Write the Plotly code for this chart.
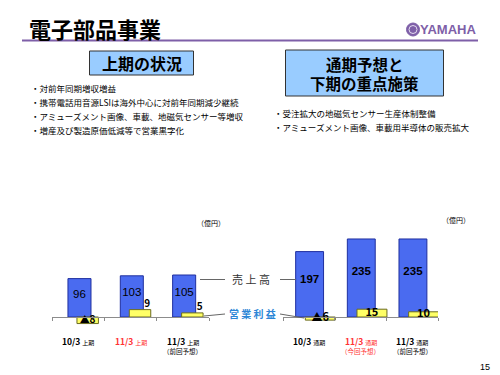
import glob
import numpy as np
import plotly.graph_objects as go

# ---------------- data ----------------
left_years = ["10/3", "11/3", "11/3"]
left_period = "上期"
left_notes = ["", "", "（前回予想）"]
left_sales = [96, 103, 105]
left_profit = [-8, 9, 5]

right_years = ["10/3", "11/3", "11/3"]
right_period = "通期"
right_notes = ["", "（今回予想）", "（前回予想）"]
right_sales = [197, 235, 235]
right_profit = [-6, 15, 10]

highlight = [False, True, False]

title_text = "電子部品事業"
left_box_text = ["上期の状況"]
right_box_text = ["通期予想と", "下期の重点施策"]
left_bullets = [
    "・対前年同期増収増益",
    "・携帯電話用音源LSIは海外中心に対前年同期減少継続",
    "・アミューズメント画像、車載、地磁気センサー等増収",
    "・増産及び製造原価低減等で営業黒字化",
]
right_bullets = [
    "・受注拡大の地磁気センサー生産体制整備",
    "・アミューズメント画像、車載用半導体の販売拡大",
]
unit_label = "（億円）"
sales_label = "売 上 高"
profit_label = "営 業 利 益"
page_no = "15"

JP = "Noto Sans CJK JP"
BLUE = "#4A6BF0"
BLUE_LINE = "#1F2F9F"
YELLOW = "#FFFF66"
YELLOW_LINE = "#6B6B20"
PURPLE = "#7E5FA8"
RED = "#FF3333"
W, H = 500, 375

has_narrow = bool(glob.glob("/usr/share/fonts/**/LiberationSansNarrow*", recursive=True))
LOGO_FONT = "Liberation Sans Narrow" if has_narrow else "Liberation Sans"
LOGO_SIZE = 16 if has_narrow else 13


def px(x):
    return x / W


def py(y):
    return 1 - y / H


def neg_fmt(v):
    return ("▲" + str(abs(v))) if v < 0 else str(v)


fig = go.Figure()
centers = np.arange(3) + 0.5

# ---------- left chart ----------
fig.add_trace(go.Bar(x=centers, y=left_sales, xaxis="x", yaxis="y",
                     offset=-0.195, width=0.44,
                     marker=dict(color=BLUE, line=dict(color=BLUE_LINE, width=1)),
                     hoverinfo="skip"))
fig.add_trace(go.Scatter(x=centers + 0.025, y=[v * 0.57 for v in left_sales],
                         xaxis="x", yaxis="y", mode="text",
                         text=[str(v) for v in left_sales],
                         textfont=dict(family="Liberation Sans", size=11.5, color="black"),
                         cliponaxis=False, hoverinfo="skip"))
fig.add_trace(go.Bar(x=centers, y=left_profit, xaxis="x", yaxis="y2",
                     offset=-0.023, width=0.41,
                     marker=dict(color=YELLOW, line=dict(color=YELLOW_LINE, width=1)),
                     hoverinfo="skip"))
lp_x = [c + (0.32 if v > 0 else 0.18) for c, v in zip(centers, left_profit)]
lp_y = [v if v > 0 else v / 2 for v in left_profit]
lp_pos = ["top center" if v > 0 else "middle center" for v in left_profit]
fig.add_trace(go.Scatter(x=lp_x, y=lp_y, xaxis="x", yaxis="y2", mode="text",
                         text=["<b>%s</b>" % neg_fmt(v) for v in left_profit], textposition=lp_pos,
                         textfont=dict(family=JP, size=10, color="black"),
                         cliponaxis=False, hoverinfo="skip"))

# ---------- right chart ----------
fig.add_trace(go.Bar(x=centers, y=right_sales, xaxis="x2", yaxis="y3",
                     offset=-0.255, width=0.54,
                     marker=dict(color=BLUE, line=dict(color=BLUE_LINE, width=1)),
                     hoverinfo="skip"))
fig.add_trace(go.Scatter(x=centers + 0.015, y=[v * 0.57 for v in right_sales],
                         xaxis="x2", yaxis="y3", mode="text",
                         text=["<b>%d</b>" % v for v in right_sales],
                         textfont=dict(family="Liberation Sans", size=11.5, color="black"),
                         cliponaxis=False, hoverinfo="skip"))
fig.add_trace(go.Bar(x=centers, y=right_profit, xaxis="x2", yaxis="y4",
                     offset=-0.068, width=0.58,
                     marker=dict(color=YELLOW, line=dict(color=YELLOW_LINE, width=1)),
                     hoverinfo="skip"))
fig.add_trace(go.Scatter(x=centers + 0.22, y=[v / 2 for v in right_profit],
                         xaxis="x2", yaxis="y4", mode="text",
                         text=["<b>%s</b>" % neg_fmt(v) for v in right_profit],
                         textfont=dict(family=JP, size=11, color="black"),
                         cliponaxis=False, hoverinfo="skip"))

axis_common = dict(range=[0, 3], anchor="free", position=py(317), showline=True,
                   linecolor="#8C8C8C", linewidth=1, tickvals=[0, 1, 2, 3],
                   ticks="outside", ticklen=3, tickcolor="#8C8C8C",
                   showticklabels=False, showgrid=False, zeroline=False)
yhide = dict(visible=False, showgrid=False, zeroline=False)

fig.update_layout(
    width=W, height=H, margin=dict(l=0, r=0, t=0, b=0),
    paper_bgcolor="white", plot_bgcolor="rgba(0,0,0,0)", showlegend=False,
    barmode="overlay",
    xaxis=dict(domain=[px(52), px(209)], **axis_common),
    yaxis=dict(domain=[py(330), py(230)], range=[-13 / 0.4, 87 / 0.4], **yhide),
    yaxis2=dict(overlaying="y", range=[-13 / 0.82, 87 / 0.82], **yhide),
    xaxis2=dict(domain=[px(283), px(438)], **axis_common),
    yaxis3=dict(domain=[py(330), py(200)], range=[-13 / 0.332, 117 / 0.332], anchor="x2", **yhide),
    yaxis4=dict(overlaying="y3", anchor="x2", range=[-13 / 0.52, 117 / 0.52], **yhide),
)

shapes = []
ann = []


def note(x, y, text, size, color="black", family=JP, xanchor="center", xref="paper", **kw):
    ann.append(dict(x=x, y=y, xref=xref, yref="paper", xanchor=xanchor, yanchor="middle",
                    text=text, showarrow=False, font=dict(family=family, size=size, color=color),
                    **kw))


# title and underline
note(px(27), py(28), "<b>%s</b>" % title_text, 22, xanchor="left")
shapes.append(dict(type="line", xref="paper", yref="paper", x0=px(22), x1=px(478),
                   y0=py(40.5), y1=py(40.5), line=dict(color=PURPLE, width=2)))
# YAMAHA logo
shapes.append(dict(type="circle", xref="paper", yref="paper", x0=px(406.5), x1=px(419.5),
                   y0=py(36), y1=py(23), fillcolor=PURPLE, line=dict(color=PURPLE, width=1)))
shapes.append(dict(type="circle", xref="paper", yref="paper", x0=px(409), x1=px(417),
                   y0=py(33.5), y1=py(25.5), fillcolor="rgba(0,0,0,0)",
                   line=dict(color="#E6DDF0", width=1)))
note(px(478), py(29.5), "<b>YAMAHA</b>", LOGO_SIZE, color=PURPLE,
     family=LOGO_FONT, xanchor="right")

# header boxes
shapes.append(dict(type="rect", xref="paper", yref="paper", x0=px(89.5), x1=px(193.5),
                   y0=py(75), y1=py(51), fillcolor="#99CCFF", line=dict(color="#333333", width=1)))
note(px(141.5), py(63), "<b>%s</b>" % left_box_text[0], 16)
shapes.append(dict(type="rect", xref="paper", yref="paper", x0=px(285.5), x1=px(443.5),
                   y0=py(96), y1=py(50), fillcolor="#99CCFF", line=dict(color="#333333", width=1)))
for i, t in enumerate(right_box_text):
    note(px(364.5), py(64 + 19 * i), "<b>%s</b>" % t, 15.5, height=18)

# bullets
for i, t in enumerate(left_bullets):
    note(px(29), py(88 + 14 * i), t, 8.5, xanchor="left")
for i, t in enumerate(right_bullets):
    note(px(272), py(113 + 14 * i), t, 8.5, xanchor="left")

# units
note(px(211), py(223), unit_label, 7)
note(px(456), py(220), unit_label, 7)

# category labels
for xref, years, period, notes in (("x", left_years, left_period, left_notes),
                                    ("x2", right_years, right_period, right_notes)):
    for i in range(3):
        col = RED if highlight[i] else "black"
        note(centers[i], py(341),
             "<b>%s</b> <span style='font-size:6px'>%s</span>" % (years[i], period),
             8.5, color=col, xref=xref)
        if notes[i]:
            note(centers[i], py(351), notes[i], 6.5, color=col, xref=xref)

# series labels with leader lines
note(px(251), py(279), sales_label, 11, color="#333333")
note(px(252), py(313), "<b>%s</b>" % profit_label, 10, color="#2C86D6")
for x0, y0, x1, y1 in ((200, 279.5, 225, 279.5), (280, 279.5, 296, 279.5),
                       (204, 316, 225, 314), (280, 314, 304, 318)):
    shapes.append(dict(type="line", xref="paper", yref="paper", x0=px(x0), x1=px(x1),
                       y0=py(y0), y1=py(y1), line=dict(color="#666666", width=1)))

note(px(485), py(367), page_no, 9, family="Liberation Sans")

fig.update_layout(shapes=shapes, annotations=ann)
fig.write_html("out.html", config={"displayModeBar": False},
               post_script="document.body.style.margin='0';")
